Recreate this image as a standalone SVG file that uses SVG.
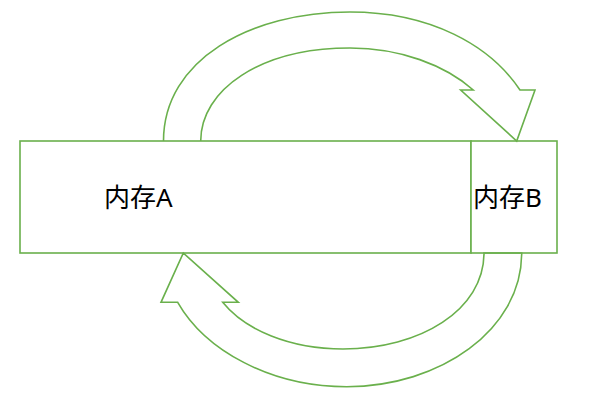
<svg xmlns="http://www.w3.org/2000/svg" width="608" height="400" viewBox="0 0 608 400">
<style>
.s{fill:none;stroke:#6ab04c;stroke-width:1.6;stroke-linejoin:miter}
.r{fill:#fff;stroke:#6ab04c;stroke-width:1.6}
.t{font-family:"Noto Sans","Noto Sans CJK SC",sans-serif;font-size:26px;fill:#000}
</style>
<rect width="608" height="400" fill="#fff"/>
<g id="memA"><rect class="r" x="20" y="141" width="451" height="112"/><text class="t" x="104" y="207">内存A</text></g>
<g id="memB"><rect class="r" x="471" y="141" width="86" height="112"/><text class="t" x="473" y="207">内存B</text></g>
<g id="connectors">
<path id="arrowTop" class="s" d="M163.5,141 C163.5,60 250,12 350,12 C430,12 490,45 520,90 L535,90 L516.7,141 L460.7,90 L473.3,90 C445,65 400,48 350,48 C260,48 200.7,90 200.7,141"/>
<path id="arrowBottom" class="s" d="M484,253 L521.7,253 C521.7,330 440,386.7 346.7,386.7 C270,386.7 205,350 177.7,302.3 L161,302.3 L183.3,253 L238.3,302.3 L222.7,302.3 C245,330 290,349 343,349 C420,349 484,310 484,253 Z"/>
</g>
</svg>
